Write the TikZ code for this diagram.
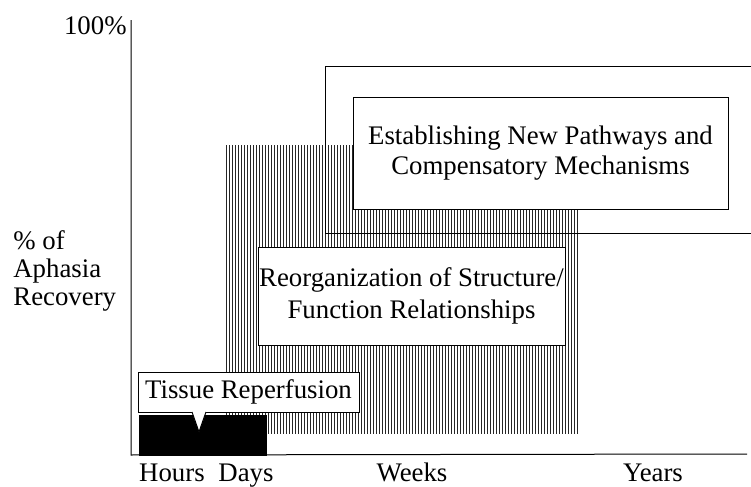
\documentclass[tikz,border=0pt]{standalone}
\usepackage{fontspec}
\setmainfont{Liberation Serif}

\tikzset{
  lbl/.style={font=\fontsize{13.4}{14}\selectfont, inner sep=0pt},
  stagebox/.style={draw, line width=.5pt, fill=white, align=center,
    font=\fontsize{13.4}{16}\selectfont, inner sep=0pt},
  hatchline/.style={line width=.45pt, black!85},
}

\begin{document}
\begin{tikzpicture}[x=.5pt,y=-.5pt]
  \useasboundingbox (0,0) rectangle (751,487);
  % striped block behind the middle stage
  \foreach \x in {226,229,...,577}
    \draw[hatchline] (\x,145) -- (\x,434);
  % open frame of the long-term stage
  \draw[line width=.5pt] (751,66) -- (325,66) -- (325,233) -- (751,233);
  \node[stagebox, minimum width=187.5pt, minimum height=56pt]
    (pathways) at (540.5,153)
    {\raisebox{-2pt}{\begin{tabular}{@{}c@{}}Establishing New Pathways and\\[-1pt]Compensatory Mechanisms\end{tabular}}};
  \node[stagebox, minimum width=153.5pt, minimum height=49pt]
    (reorg) at (411.5,296)
    {Reorganization of Structure/\\Function Relationships};
  % acute stage with its label and pointer
  \fill (139,415) rectangle (267,456);
  \node[stagebox, minimum width=110.5pt, minimum height=20pt]
    (tissue) at (248.5,392) {Tissue Reperfusion};
  \coordinate (tipl) at (192,412);
  \coordinate (tipr) at (206,412);
  \coordinate (tip) at (199,432);
  \fill[white] (191.5,411) -- (tip) -- (206.5,411) -- cycle;
  \draw[line width=.5pt] (tipl) -- (tip) -- (tipr);
  % axes
  \coordinate (top) at (131,20);
  \coordinate (origin) at (131,455);
  \coordinate (xend) at (747,454);
  \draw[line width=.5pt] (top) -- (origin) -- (xend);
  \node[lbl, anchor=east] (full) at (127,26) {100\%};
  \node[lbl, anchor=west, align=left, font=\fontsize{13.4}{14}\selectfont]
    (ylabel) at (13,271) {\% of\\Aphasia\\Recovery};
  \node[lbl, anchor=base] (hours) at (172,481) {Hours};
  \node[lbl, anchor=base] (days) at (246,481) {Days};
  \node[lbl, anchor=base] (weeks) at (412,481) {Weeks};
  \node[lbl, anchor=base] (years) at (653,481) {Years};
\end{tikzpicture}
\end{document}
